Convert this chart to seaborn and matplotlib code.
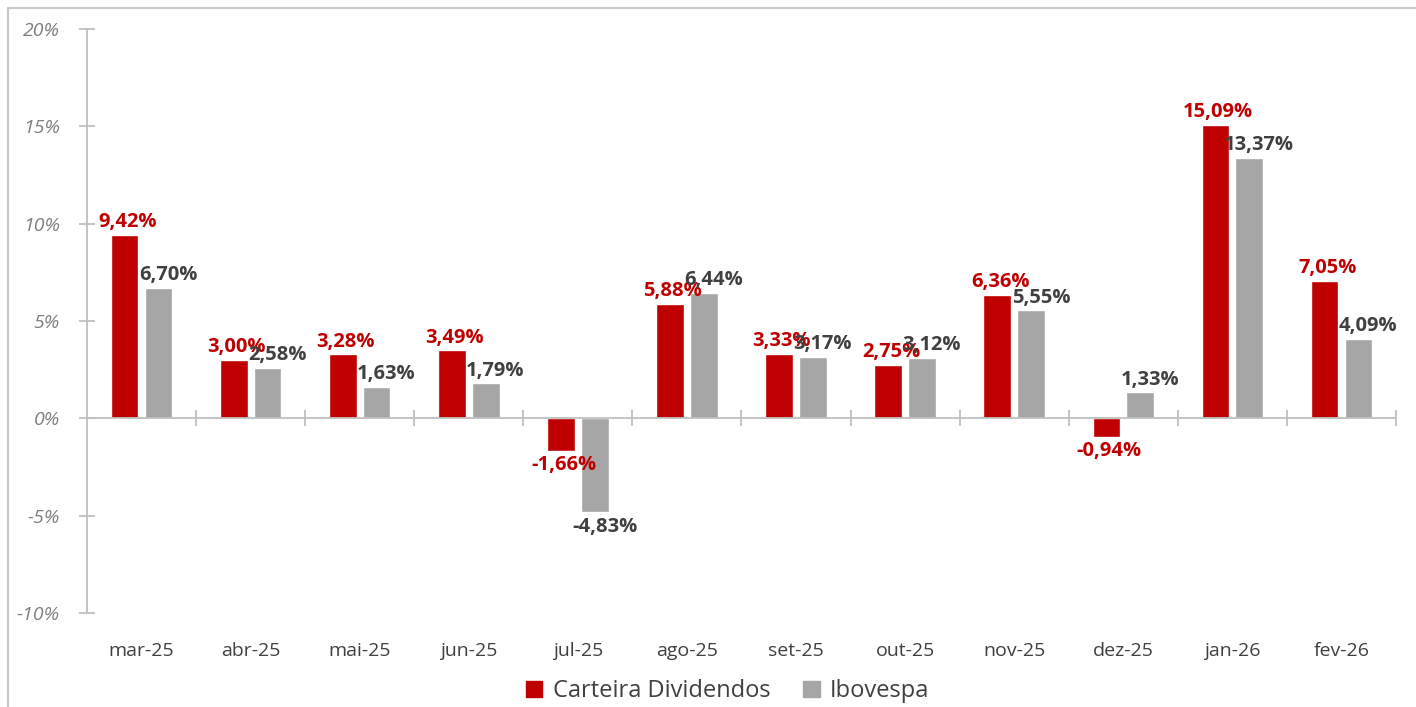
import matplotlib
matplotlib.use("Agg")
import matplotlib.pyplot as plt
import seaborn as sns
import pandas as pd
from matplotlib.lines import Line2D
from matplotlib.patches import Patch

months = ["mar-25", "abr-25", "mai-25", "jun-25", "jul-25", "ago-25",
          "set-25", "out-25", "nov-25", "dez-25", "jan-26", "fev-26"]
carteira = [9.42, 3.00, 3.28, 3.49, -1.66, 5.88, 3.33, 2.75, 6.36, -0.94, 15.09, 7.05]
ibovespa = [6.70, 2.58, 1.63, 1.79, -4.83, 6.44, 3.17, 3.12, 5.55, 1.33, 13.37, 4.09]
series_names = ["Carteira Dividendos", "Ibovespa"]
yticks = [-10, -5, 0, 5, 10, 15, 20]

RED = "#C00000"
GRAY = "#A6A6A6"
AXIS = "#BFBFBF"
TXT = "#404040"

df = pd.DataFrame({
    "mes": months * 2,
    "serie": [series_names[0]] * len(months) + [series_names[1]] * len(months),
    "valor": carteira + ibovespa,
})

sns.set_theme(style="white")
plt.rcParams["font.family"] = ["Open Sans", "DejaVu Sans"]

fig = plt.figure(figsize=(14.16, 7.07), dpi=100)
ax = fig.add_axes([87 / 1416, 1 - 613 / 707, (1396 - 87) / 1416, (613 - 29) / 707])

sns.barplot(data=df, x="mes", y="valor", hue="serie", order=months,
            hue_order=series_names, palette=[RED, GRAY], width=0.62, gap=0.18,
            saturation=1, ax=ax, legend=False)

ax.set_ylim(-10, 20)
ax.set_xlim(-0.5, len(months) - 0.5)
ax.set_yticks(yticks)
ax.set_yticklabels([f"{v}%" for v in yticks], fontstyle="italic", color="#7F7F7F", fontsize=14)
ax.set_xlabel("")
ax.set_ylabel("")

for s in ["top", "right"]:
    ax.spines[s].set_visible(False)
ax.spines["left"].set_color(AXIS)
ax.spines["left"].set_linewidth(1.3)
ax.spines["bottom"].set_position(("data", 0))
ax.spines["bottom"].set_color(AXIS)
ax.spines["bottom"].set_linewidth(1.3)

ax.tick_params(axis="y", direction="inout", length=11, width=1.3, color=AXIS, pad=14, left=True)
ax.set_xticks([i + 0.5 for i in range(len(months))])
ax.tick_params(axis="x", direction="inout", length=12, width=1.3, color=AXIS, labelbottom=False, bottom=True)

sec = ax.secondary_xaxis("bottom")
sec.set_xticks(range(len(months)))
sec.set_xticklabels(months, color=TXT, fontsize=14)
sec.tick_params(length=0, pad=21)
sec.spines["bottom"].set_visible(False)

# value labels
containers = ax.containers
for cont, vals, col, dx in [(containers[0], carteira, RED, 2), (containers[1], ibovespa, TXT, 7)]:
    for bar, v in zip(cont, vals):
        x = bar.get_x() + bar.get_width() / 2
        lbl = f"{v:.2f}%".replace(".", ",")
        if v >= 0:
            ax.annotate(lbl, (x, v), xytext=(dx, 2), textcoords="offset points",
                        ha="center", va="bottom", color=col, fontsize=14.5, fontweight="bold")
        else:
            ax.annotate(lbl, (x, v), xytext=(dx, -3), textcoords="offset points",
                        ha="center", va="top", color=col, fontsize=14.5, fontweight="bold")

handles = [Patch(facecolor=RED, edgecolor=RED), Patch(facecolor=GRAY, edgecolor=GRAY)]
fig.legend(handles, series_names, loc="center", bbox_to_anchor=(0.514, 1 - 691 / 707), ncol=2,
           frameon=False, fontsize=17, handlelength=0.68, handleheight=0.68,
           handletextpad=0.45, columnspacing=1.4, labelcolor=TXT)

# outer frame (top and left visible)
fig.add_artist(Line2D([8 / 1416, 8 / 1416], [0, 1 - 8 / 707], transform=fig.transFigure, color="#C8C8C8", lw=1.5))
fig.add_artist(Line2D([8 / 1416, 1], [1 - 8 / 707, 1 - 8 / 707], transform=fig.transFigure, color="#C8C8C8", lw=1.5))

fig.savefig("out.png", dpi=100)
